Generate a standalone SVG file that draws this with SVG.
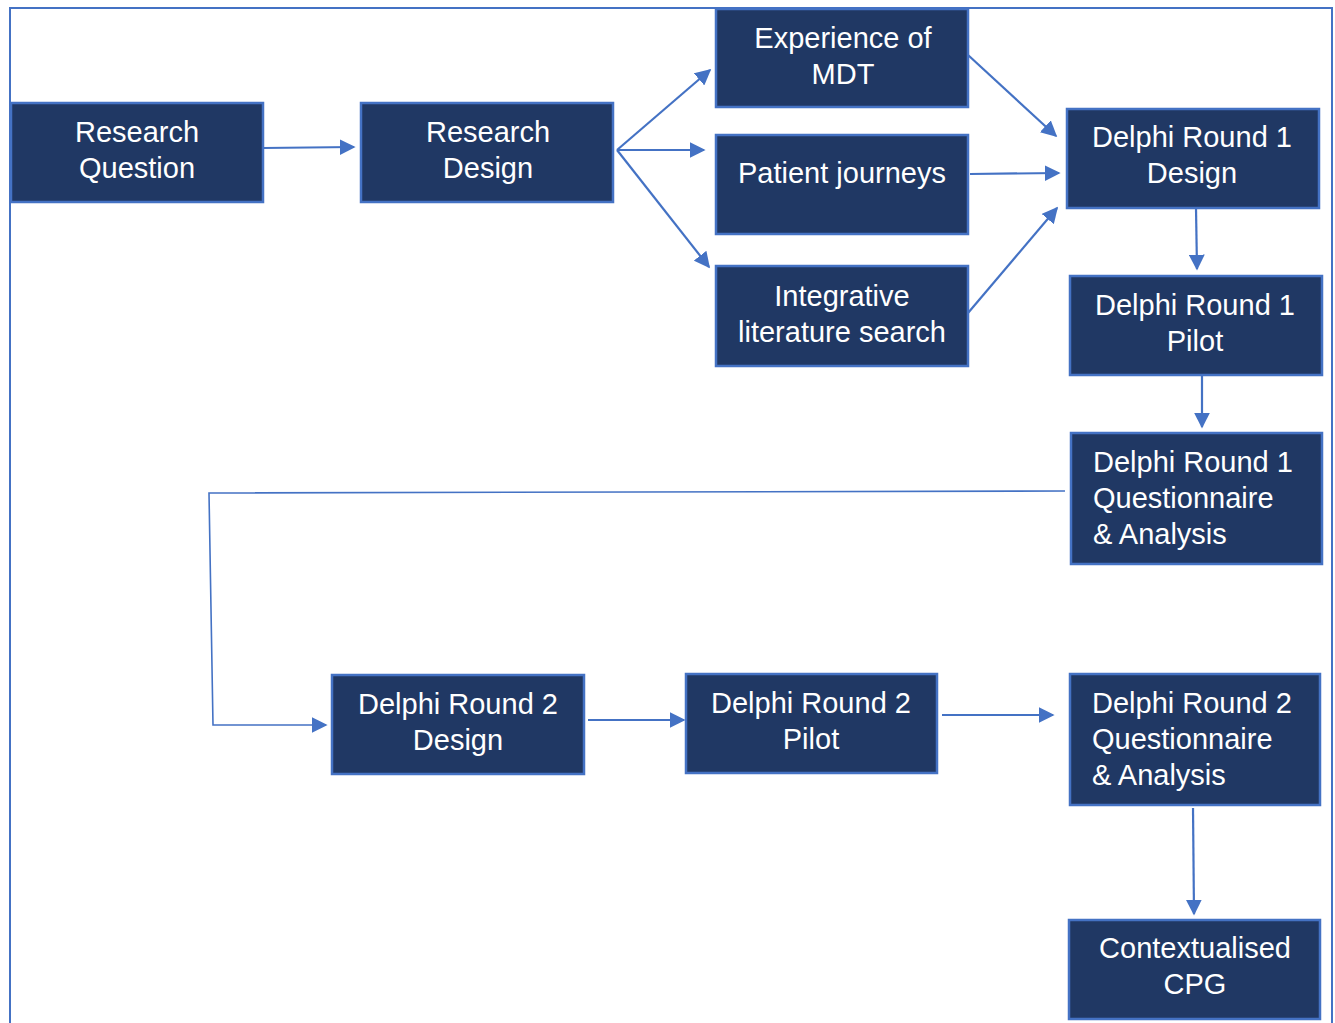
<svg xmlns="http://www.w3.org/2000/svg" width="1335" height="1023" viewBox="0 0 1335 1023">
  <style>
    .box { fill: #203864; stroke: #4472C4; stroke-width: 2.5; }
    .lbl { fill: #ffffff; font-family: "Liberation Sans", Arial, sans-serif; font-size: 29px; }
    .c { text-anchor: middle; }
    .conn { fill: none; stroke: #4472C4; stroke-width: 2.2; }
    .thin { stroke-width: 1.6; }
  </style>
  <defs>
    <marker id="head" viewBox="0 0 10 10" refX="9" refY="5" markerWidth="16" markerHeight="16" markerUnits="userSpaceOnUse" orient="auto">
      <path d="M0,0 L10,5 L0,10 z" fill="#4472C4"/>
    </marker>
  </defs>

  <rect width="1335" height="1023" fill="#ffffff"/>
  <!-- outer frame -->
  <path d="M10,1030 V8 H1332 V1030" fill="none" stroke="#4472C4" stroke-width="2"/>

  <g id="connectors">
    <line class="conn" x1="263" y1="148" x2="354" y2="147" marker-end="url(#head)"/>
    <line class="conn" x1="617" y1="150" x2="710" y2="70" marker-end="url(#head)"/>
    <line class="conn" x1="617" y1="150" x2="704" y2="150" marker-end="url(#head)"/>
    <line class="conn" x1="617" y1="150" x2="709" y2="267" marker-end="url(#head)"/>
    <line class="conn" x1="968" y1="55" x2="1056" y2="136" marker-end="url(#head)"/>
    <line class="conn" x1="970" y1="174" x2="1059" y2="173" marker-end="url(#head)"/>
    <line class="conn" x1="968" y1="313" x2="1057" y2="208" marker-end="url(#head)"/>
    <line class="conn" x1="1196" y1="208" x2="1197" y2="269" marker-end="url(#head)"/>
    <line class="conn" x1="1202" y1="375" x2="1202" y2="427" marker-end="url(#head)"/>
    <polyline class="conn thin" points="1065,491 209,493 213,725 326,725" marker-end="url(#head)"/>
    <line class="conn" x1="588" y1="720" x2="684" y2="720" marker-end="url(#head)"/>
    <line class="conn" x1="942" y1="715" x2="1053" y2="715" marker-end="url(#head)"/>
    <line class="conn" x1="1193" y1="808" x2="1194" y2="914" marker-end="url(#head)"/>
  </g>

  <g id="research-question">
    <rect class="box" x="11" y="103" width="252" height="99"/>
    <text class="lbl c" x="137" y="142">Research</text>
    <text class="lbl c" x="137" y="178">Question</text>
  </g>
  <g id="research-design">
    <rect class="box" x="361" y="103" width="252" height="99"/>
    <text class="lbl c" x="488" y="142">Research</text>
    <text class="lbl c" x="488" y="178">Design</text>
  </g>
  <g id="experience-mdt">
    <rect class="box" x="716" y="9" width="252" height="98"/>
    <text class="lbl c" x="843" y="48">Experience of</text>
    <text class="lbl c" x="843" y="84">MDT</text>
  </g>
  <g id="patient-journeys">
    <rect class="box" x="716" y="135" width="252" height="99"/>
    <text class="lbl c" x="842" y="183">Patient journeys</text>
  </g>
  <g id="literature-search">
    <rect class="box" x="716" y="266" width="252" height="100"/>
    <text class="lbl c" x="842" y="306">Integrative</text>
    <text class="lbl c" x="842" y="342">literature search</text>
  </g>
  <g id="r1-design">
    <rect class="box" x="1067" y="109" width="252" height="99"/>
    <text class="lbl c" x="1192" y="147">Delphi Round 1</text>
    <text class="lbl c" x="1192" y="183">Design</text>
  </g>
  <g id="r1-pilot">
    <rect class="box" x="1070" y="276" width="252" height="99"/>
    <text class="lbl c" x="1195" y="315">Delphi Round 1</text>
    <text class="lbl c" x="1195" y="351">Pilot</text>
  </g>
  <g id="r1-questionnaire">
    <rect class="box" x="1071" y="433" width="251" height="131"/>
    <text class="lbl" x="1093" y="472">Delphi Round 1</text>
    <text class="lbl" x="1093" y="508">Questionnaire</text>
    <text class="lbl" x="1093" y="544">&amp; Analysis</text>
  </g>
  <g id="r2-design">
    <rect class="box" x="332" y="675" width="252" height="99"/>
    <text class="lbl c" x="458" y="714">Delphi Round 2</text>
    <text class="lbl c" x="458" y="750">Design</text>
  </g>
  <g id="r2-pilot">
    <rect class="box" x="686" y="674" width="251" height="99"/>
    <text class="lbl c" x="811" y="713">Delphi Round 2</text>
    <text class="lbl c" x="811" y="749">Pilot</text>
  </g>
  <g id="r2-questionnaire">
    <rect class="box" x="1070" y="674" width="250" height="131"/>
    <text class="lbl" x="1092" y="713">Delphi Round 2</text>
    <text class="lbl" x="1092" y="749">Questionnaire</text>
    <text class="lbl" x="1092" y="785">&amp; Analysis</text>
  </g>
  <g id="contextualised-cpg">
    <rect class="box" x="1069" y="920" width="251" height="99"/>
    <text class="lbl c" x="1195" y="958">Contextualised</text>
    <text class="lbl c" x="1195" y="994">CPG</text>
  </g>
</svg>
